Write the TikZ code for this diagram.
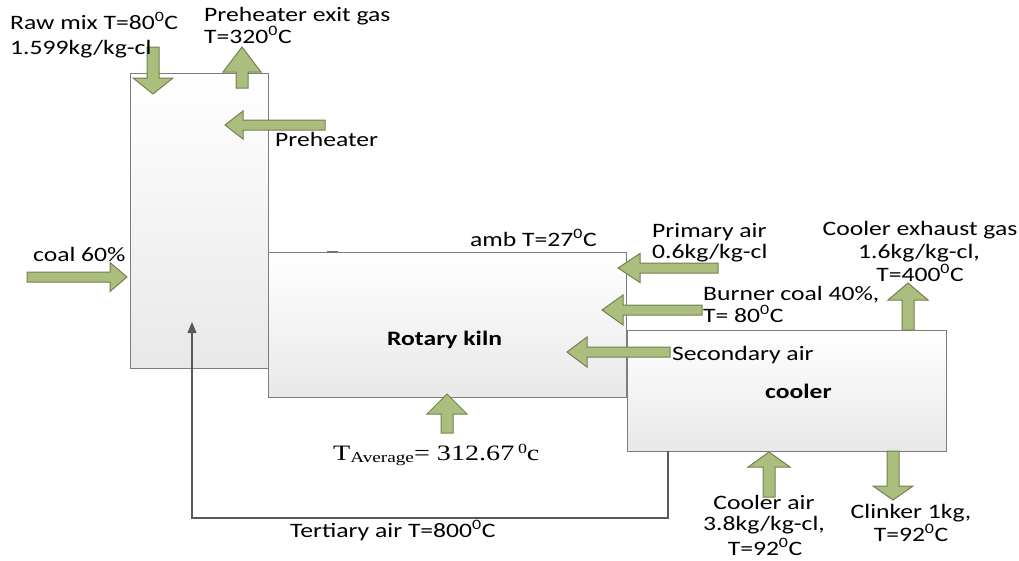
\documentclass[tikz,border=0pt]{standalone}
\usepackage{fontspec}
\setmainfont{Carlito}[FakeStretch=1.25]
\newfontfamily\tnr{Liberation Serif}[FakeStretch=1.28]
\usetikzlibrary{arrows.meta}
\definecolor{afill}{RGB}{172,190,125}
\definecolor{aline}{RGB}{112,130,78}
\definecolor{bline}{RGB}{125,125,125}
\newcommand\barr[7]{\draw[barrow,shift={(#1,#2)},rotate=#3] (0,0) -- (-#5,#6) -- (-#5,#7) -- (-#4,#7) -- (-#4,-#7) -- (-#5,-#7) -- (-#5,-#6) -- cycle;}
\newcommand\dg{\textsuperscript{0}}
\begin{document}
\begin{tikzpicture}[x=1pt,y=-1pt,
  box/.style={draw=bline, line width=1.2pt, top color=white, bottom color=black!9, anchor=north west, inner sep=0pt},
  barrow/.style={fill=afill, draw=aline, line width=1pt, line join=miter},
  lab/.style={font=\fontsize{20.5}{24}\selectfont, inner sep=0pt, anchor=base west},
  clab/.style={font=\fontsize{20.5}{24}\selectfont, inner sep=0pt, anchor=base},
  tline/.style={draw=bline, line width=1.2pt}]
\useasboundingbox (0,0) rectangle (1019,560);
% boxes
\node[box, minimum width=138pt, minimum height=295pt] (pre) at (130,73) {};
\node[box, minimum width=358pt, minimum height=145pt] (kiln) at (268,252) {};
\node[box, minimum width=319pt, minimum height=121pt] (cooler) at (627,330) {};
\draw[line width=1.6pt, black!55] (327,252) -- (338,252);
% tertiary air duct
\coordinate (t0) at (668,451);
\coordinate (t1) at (192,518);
\coordinate (t2) at (192,322);
\draw[tline, -{Triangle[length=11pt,width=9pt]}, color=black!65] (t0) |- (t1) -- (t2);
% block arrows
\barr{153}{94}{270}{47}{16}{20}{6}
\barr{242}{47}{90}{41}{25}{19}{6}
\barr{225}{125}{180}{100}{18}{14}{5}
\barr{127}{277}{0}{100}{17}{14.5}{5}
\barr{618}{268}{180}{100}{22}{14.5}{5}
\barr{602}{310}{180}{100}{21}{15}{5}
\barr{567}{352}{180}{103}{20}{15}{5}
\barr{908}{283}{90}{47}{17}{20}{6}
\barr{447}{394}{90}{39}{20}{20}{6}
\barr{769}{452}{90}{45}{15}{21}{6}
\barr{893}{500}{270}{49}{14}{20}{6}
% labels
\node[lab] (raw1) at (10,29) {Raw mix T=80\dg C};
\node[lab] (raw2) at (10,54) {1.599kg/kg-cl};
\node[lab] (pex1) at (204,21) {Preheater exit gas};
\node[lab] (pex2) at (204,43) {T=320\dg C};
\node[lab] (prel) at (275,146) {Preheater};
\node[lab] (coal) at (33,261) {coal 60\%};
\node[lab] (amb) at (470,246) {amb T=27\dg C};
\node[lab] (pa1) at (652,237) {Primary air};
\node[lab] (pa2) at (652,258) {0.6kg/kg-cl};
\node[lab] (bc1) at (703,300) {Burner coal 40\%,};
\node[lab] (bc2) at (703,322) {T= 80\dg C};
\node[lab] (sec) at (672,360) {Secondary air};
\node[lab, font=\fontsize{20.5}{24}\selectfont\bfseries] (kl) at (387,345) {Rotary kiln};
\node[lab, font=\fontsize{20.5}{24}\selectfont\bfseries] (cl) at (765,398) {cooler};
\node[clab] (ce1) at (920,235) {Cooler exhaust gas};
\node[clab] (ce2) at (919,258) {1.6kg/kg-cl,};
\node[clab] (ce3) at (920,281) {T=400\dg C};
\node[clab] (ca1) at (764,509) {Cooler air};
\node[clab] (ca2) at (764,530) {3.8kg/kg-cl,};
\node[clab] (ca3) at (765,555) {T=92\dg C};
\node[clab] (ck1) at (911,518) {Clinker 1kg,};
\node[clab] (ck2) at (911,541) {T=92\dg C};
\node[lab] (ter) at (290,537) {Tertiary air T=800\dg C};
\node[lab, font=\tnr\fontsize{22}{24}\selectfont] (tav) at (333,460) {T\raisebox{-2pt}{\fontsize{15}{15}\selectfont Average}= 312.67\,\raisebox{7pt}{\fontsize{14}{14}\selectfont 0}c};
\end{tikzpicture}
\end{document}
